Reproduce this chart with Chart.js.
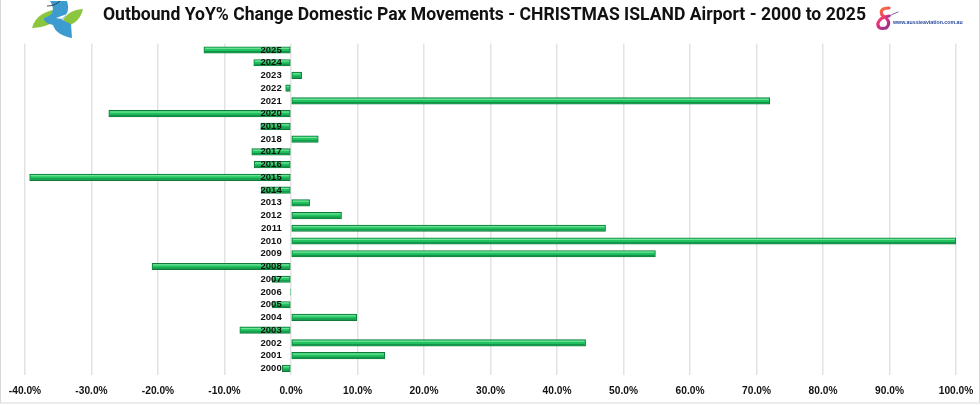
<!DOCTYPE html>
<html>
<head>
<meta charset="utf-8">
<script src="https://cdn.jsdelivr.net/npm/chart.js@4.4.1/dist/chart.umd.min.js"></script>
<style>
  html, body { margin: 0; padding: 0; background: #fff; }
</style>
</head>
<body>
<canvas id="yoyChart" width="980" height="405"></canvas>
<script>
const years = ['2000','2001','2002','2003','2004','2005','2006','2007','2008','2009','2010','2011','2012',
               '2013','2014','2015','2016','2017','2018','2019','2020','2021','2022','2023','2024','2025'];
const yoyChange = [-1.3, 14.1, 44.3, -7.7, 9.9, -2.85, -0.1, -2.85, -20.9, 54.8, 100.0, 47.3, 7.6,
                   2.8, -4.5, -39.3, -5.55, -5.9, 4.1, -4.55, -27.4, 72.0, -0.8, 1.6, -5.6, -13.1];
const xMin = -40;
const xMax = 100;
const xStep = 10;
const titleText = 'Outbound YoY% Change Domestic Pax Movements - CHRISTMAS ISLAND Airport - 2000 to 2025';
const siteText = 'www.aussieaviation.com.au';

// title, logos, frame and the bevel shading on the bars
const decor = {
  id: 'decor',
  beforeDraw(chart) {
    const c = chart.ctx;
    c.save();
    c.fillStyle = '#fff';
    c.fillRect(0, 0, chart.width, chart.height);
    c.restore();
  },
  afterDatasetsDraw(chart) {
    const c = chart.ctx;
    const meta = chart.getDatasetMeta(0);
    c.save();
    meta.data.forEach(bar => {
      const p = bar.getProps(['x', 'y', 'base', 'height'], true);
      const left = Math.min(p.x, p.base), right = Math.max(p.x, p.base);
      if (right - left < 2) return;
      c.fillStyle = '#72e49c';
      c.fillRect(left + 1, p.y - p.height / 2 + 1, right - left - 2, 1.2);
      c.fillStyle = '#13904a';
      c.fillRect(left + 1, p.y + p.height / 2 - 2.2, right - left - 2, 1.2);
    });
    c.restore();
  },
  afterDraw(chart) {
    const c = chart.ctx;
    c.save();
    // title
    c.font = 'bold 18px Roboto';
    const w = c.measureText(titleText).width;
    const size = 18 * 763 / w;
    c.font = 'bold ' + size.toFixed(2) + 'px Roboto';
    c.fillStyle = '#111';
    c.textAlign = 'center';
    c.textBaseline = 'alphabetic';
    c.fillText(titleText, 484.5, 20);

    // left logo (rough)
    c.fillStyle = '#8cc63f';
    c.beginPath();
    c.moveTo(32, 28); c.quadraticCurveTo(37, 10, 62, 9); c.quadraticCurveTo(57, 27, 32, 28); c.fill();
    c.beginPath();
    c.moveTo(60, 27); c.quadraticCurveTo(65, 10, 83, 9); c.quadraticCurveTo(79, 26, 60, 27); c.fill();
    c.fillStyle = '#3d9bd0';
    c.beginPath();
    c.moveTo(50, 1); c.lineTo(67, 1); c.quadraticCurveTo(71, 12, 62, 20);
    c.lineTo(71, 24); c.lineTo(72, 38); c.quadraticCurveTo(56, 35, 53, 25);
    c.quadraticCurveTo(43, 23, 44, 18); c.quadraticCurveTo(58, 14, 50, 1); c.fill();
    c.strokeStyle = '#222'; c.lineWidth = 0.8;
    c.beginPath(); c.moveTo(47, 6); c.quadraticCurveTo(55, 6, 60, 1); c.stroke();
    c.fillStyle = '#fff';
    c.beginPath(); c.moveTo(56, 18); c.lineTo(67, 14); c.lineTo(62, 19); c.fill();

    // right logo (rough)
    const g = c.createLinearGradient(876, 6, 894, 30);
    g.addColorStop(0, '#f7941d');
    g.addColorStop(0.5, '#e8337a');
    g.addColorStop(1, '#6a2c91');
    c.strokeStyle = g; c.lineWidth = 3.2; c.lineCap = 'round';
    c.beginPath();
    c.moveTo(889, 8); c.quadraticCurveTo(879, 8, 882, 15);
    c.quadraticCurveTo(893, 22, 886, 28); c.quadraticCurveTo(877, 30, 878, 23);
    c.quadraticCurveTo(880, 17, 889, 16);
    c.stroke();
    c.strokeStyle = '#5b3a8e'; c.lineWidth = 0.8;
    c.beginPath(); c.moveTo(887, 17); c.quadraticCurveTo(893, 14, 898, 12); c.stroke();
    c.font = 'bold 6px "Liberation Sans"';
    const sw = c.measureText(siteText).width;
    c.font = 'bold ' + (6 * 70 / sw).toFixed(2) + 'px "Liberation Sans"';
    c.fillStyle = '#2a4c9c';
    c.textAlign = 'left';
    c.fillText(siteText, 893, 24);

    // frame
    c.strokeStyle = '#d9d9d9'; c.lineWidth = 1;
    c.strokeRect(0.5, -1, 979, 404);
    c.restore();
  }
};

new Chart(document.getElementById('yoyChart'), {
  type: 'bar',
  data: {
    labels: years,
    datasets: [{
      label: 'YoY % change',
      data: yoyChange,
      backgroundColor: '#21c35e',
      borderColor: '#0f7a3a',
      borderWidth: 1,
      borderSkipped: false,
      barThickness: 6.5
    }]
  },
  plugins: [decor],
  options: {
    indexAxis: 'y',
    responsive: false,
    animation: false,
    layout: { padding: { top: 43.6, left: 25, right: 24, bottom: -2 } },
    plugins: {
      legend: { display: false },
      tooltip: { enabled: false },
      title: { display: false }
    },
    scales: {
      x: {
        min: xMin,
        max: xMax,
        grid: { color: '#e3e3e3', lineWidth: 1.5, drawTicks: false },
        border: { display: false },
        // end labels may overhang; the layout padding already leaves room
        afterFit: s => { s.paddingLeft = 0; s.paddingRight = 0; },
        ticks: {
          stepSize: xStep,
          padding: 10,
          color: '#111',
          font: { family: 'Liberation Sans', size: 10.2, weight: 'bold' },
          callback: v => v.toFixed(1) + '%'
        }
      },
      y: {
        reverse: true,
        position: { x: -1.4 },
        grid: { display: false, drawTicks: false },
        border: { display: false },
        ticks: {
          z: 1,
          padding: 0,
          color: '#111',
          autoSkip: false,
          font: { family: 'Liberation Sans', size: 9.5, weight: 'bold' }
        }
      }
    }
  }
});
</script>
</body>
</html>
